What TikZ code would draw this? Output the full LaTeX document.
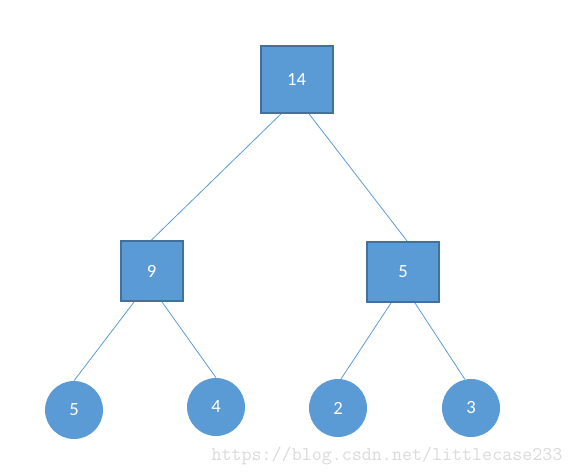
\documentclass[tikz,border=0pt]{standalone}
\usepackage{fontspec}
\setmainfont{Carlito}
\definecolor{nodeblue}{HTML}{5B9BD5}
\definecolor{edgeblue}{HTML}{41719C}
\definecolor{markgray}{HTML}{DADADA}
\begin{document}
\begin{tikzpicture}[
            x=0.75pt, y=-0.75pt,
            font=\fontsize{14}{16}\selectfont,
            sq/.style={draw=edgeblue, line width=1.5pt, fill=nodeblue, text=white, inner sep=0pt},
            leaf/.style={circle, fill=nodeblue, text=white, inner sep=0pt, minimum size=43.5pt},
            link/.style={draw=nodeblue, line width=0.6pt}
        ]
        \useasboundingbox (0,0) rectangle (572,475);

        % Inner nodes
        \node[sq, minimum width=54pt, minimum height=50pt] (root) at (296.5,79.5) {14};
        \node[sq, minimum width=46.5pt, minimum height=45pt] (left) at (151.5,271) {9};
        \node[sq, minimum width=54pt, minimum height=45pt] (right) at (403,272) {5};

        % Leaves
        \node[leaf] (a) at (74,410) {5}; \node[leaf] (b) at (216,407) {4};
        \node[leaf] (c) at (338,408) {2}; \node[leaf] (d) at (471,408) {3};

        % Links
        \draw[link] ([xshift=-11.6pt]root.south) -- (left.north);
        \draw[link] ([xshift=9.4pt]root.south) -- ([xshift=3pt]right.north);
        \draw[link] ([xshift=-13.1pt]left.south) -- (a.north);
        \draw[link] ([xshift=7.9pt]left.south) -- (b.north);
        \draw[link] ([xshift=-9pt]right.south) -- (c.84);
        \draw[link] ([xshift=9pt]right.south) -- (d.102);

        % Watermark
        \node[text=markgray, font=\ttfamily\fontsize{14.6}{16}\selectfont] (mark) at (387,456) {https://blog.csdn.net/littlecase233};
    \end{tikzpicture}
\end{document}
